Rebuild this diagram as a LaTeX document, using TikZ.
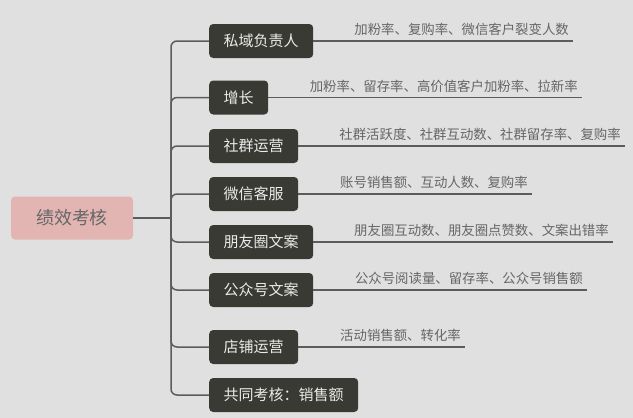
\documentclass[tikz,border=0pt]{standalone}
\usepackage{fontspec}
\usepackage{tikz}
\usetikzlibrary{positioning,calc}
\newfontfamily\cjk{Noto Sans CJK SC}
\definecolor{bgcol}{HTML}{E0E0E0}
\definecolor{rootcol}{HTML}{E2B5B3}
\definecolor{rolecol}{HTML}{3A3A34}
\definecolor{linecol}{HTML}{5C5C5E}
\definecolor{kpicol}{HTML}{666666}
\tikzset{
rootbox/.style={fill=rootcol,rounded corners=4pt,minimum height=43pt,inner xsep=25pt,
font=\cjk\fontsize{18}{20}\selectfont,text=black!60},
rolebox/.style={fill=rolecol,rounded corners=4pt,minimum height=34pt,inner xsep=14.5pt,
font=\cjk\fontsize{15}{17}\selectfont,text=white!92!black,anchor=west},
kpitext/.style={font=\cjk\fontsize{13.4}{15}\selectfont,text=kpicol,anchor=south east,inner xsep=4pt,inner ysep=5pt},
branch/.style={draw=linecol,line width=1.5pt,rounded corners=6pt},
kpiline/.style={draw=linecol,line width=1.3pt}
}
\begin{document}
\begin{tikzpicture}[x=1pt,y=-1pt]
\fill[bgcol] (0,0) rectangle (633,418);
\useasboundingbox (0,0) rectangle (633,418);
\node[rootbox] (root) at (72,218) {绩效考核};
\coordinate (hub) at (171,218);
% roles
\node[rolebox] (c1) at (209,41) {私域负责人};
\node[rolebox] (c2) at (209,97.5) {增长};
\node[rolebox] (c3) at (209,146) {社群运营};
\node[rolebox] (c4) at (209,194) {微信客服};
\node[rolebox] (c5) at (209,242) {朋友圈文案};
\node[rolebox] (c6) at (209,290) {公众号文案};
\node[rolebox] (c7) at (209,347) {店铺运营};
\node[rolebox] (c8) at (209,395) {共同考核：销售额};
\draw[branch] (root.east) -- (hub);
\foreach \i in {1,...,8}
  \draw[branch] (hub) |- (c\i.west);
% line ends
\coordinate (e1) at (573,41);
\coordinate (e2) at (582,97.5);
\coordinate (e3) at (625,146);
\coordinate (e4) at (532,194);
\coordinate (e5) at (613,242);
\coordinate (e6) at (587,290);
\coordinate (e7) at (465,347);
% indicators
\node[kpitext] (l1) at (e1) {加粉率、复购率、微信客户裂变人数};
\node[kpitext] (l2) at (e2) {加粉率、留存率、高价值客户加粉率、拉新率};
\node[kpitext] (l3) at (e3) {社群活跃度、社群互动数、社群留存率、复购率};
\node[kpitext] (l4) at (e4) {账号销售额、互动人数、复购率};
\node[kpitext] (l5) at (e5) {朋友圈互动数、朋友圈点赞数、文案出错率};
\node[kpitext] (l6) at (e6) {公众号阅读量、留存率、公众号销售额};
\node[kpitext] (l7) at (e7) {活动销售额、转化率};
\foreach \i in {1,...,7}
  \draw[kpiline] (c\i.east) -- (e\i);
\end{tikzpicture}
\end{document}
